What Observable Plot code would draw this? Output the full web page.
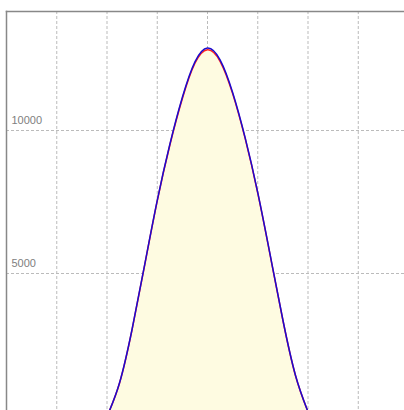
<!DOCTYPE html>
<html>
<head>
<meta charset="utf-8">
<script src="https://cdn.jsdelivr.net/npm/d3@7"></script>
<script src="https://cdn.jsdelivr.net/npm/@observablehq/plot@0.6"></script>
<style>
  html, body { margin: 0; padding: 0; background: #fff; }
  #chart svg { display: block; }
</style>
</head>
<body>
<div id="chart"></div>
<script>
// x positions (grid units)
const xs = [-2.0, -1.75, -1.5, -1.25, -1.0, -0.75, -0.5, -0.25, 0, 0.25, 0.5, 0.75, 1.0, 1.25, 1.5, 1.75, 2.0];
// blue series values
const blueVals = [0, 1180, 3060, 5310, 7560, 9510, 11160, 12400, 12885, 12470, 11330, 9740, 7830, 5625, 3375, 1445, 165];
// red series values (slightly lower peak)
const redVals = [0, 1170, 3045, 5295, 7540, 9485, 11120, 12350, 12820, 12420, 11290, 9715, 7810, 5610, 3365, 1435, 160];
const xGrid = [-3, -2, -1, 0, 1, 2, 3];
const yTicks = [5000, 10000];
const yTickLabels = ["5000", "10000"];
const xDomain = [-4.0, 3.92];
const yDomain = [210, 14161];

const blue = xs.map((x, i) => ({x, y: blueVals[i]}));
const red = xs.map((x, i) => ({x, y: redVals[i]}));

const chart = Plot.plot({
  width: 404,
  height: 410,
  marginLeft: 6,
  marginTop: 11,
  marginRight: 0,
  marginBottom: 0,
  style: {fontFamily: "'Liberation Sans', Arial, sans-serif", fontSize: "11px", background: "#fff"},
  x: {domain: xDomain, axis: null},
  y: {domain: yDomain, axis: null},
  marks: [
    Plot.gridX(xGrid, {stroke: "#bbb", strokeOpacity: 1, strokeDasharray: "3,2"}),
    Plot.gridY(yTicks, {stroke: "#bbb", strokeOpacity: 1, strokeDasharray: "3,2"}),
    Plot.areaY(blue, {x: "x", y: "y", y1: 0, fill: "#fefbe1", curve: "natural", clip: true}),
    Plot.line(red, {x: "x", y: "y", stroke: "#ff2020", strokeWidth: 1.5, curve: "natural", clip: true}),
    Plot.line(blue, {x: "x", y: "y", stroke: "#1a0ad0", strokeWidth: 1.5, curve: "natural", clip: true}),
    Plot.axisY(yTicks, {anchor: "left", label: null, tickSize: 0, tickPadding: 0, textAnchor: "start", dx: 5, dy: -10, fill: "#808080", tickFormat: (d, i) => yTickLabels[i]}),
    Plot.frame({anchor: "top", stroke: "#888", strokeWidth: 1.5}),
    Plot.frame({anchor: "left", stroke: "#888", strokeWidth: 1.5})
  ]
});
document.getElementById("chart").appendChild(chart);
</script>
</body>
</html>
